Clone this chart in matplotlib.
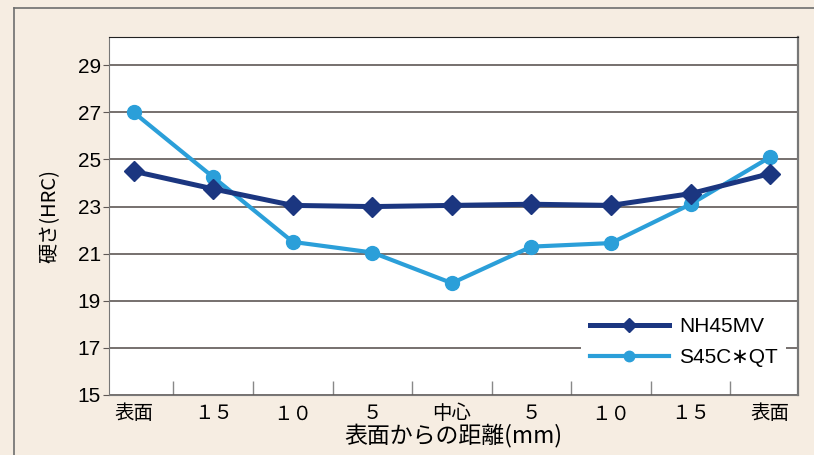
import matplotlib
matplotlib.use("Agg")
import matplotlib.pyplot as plt
from matplotlib.lines import Line2D
from matplotlib.ticker import FixedLocator

plt.rcParams['font.family'] = ['Noto Sans CJK JP', 'DejaVu Sans']

# データ
positions = ["表面", "１５", "１０", "５", "中心", "５", "１０", "１５", "表面"]
nh45mv = [24.5, 23.75, 23.05, 23.0, 23.05, 23.1, 23.05, 23.55, 24.4]
s45c_qt = [27.0, 24.25, 21.5, 21.05, 19.75, 21.3, 21.45, 23.1, 25.1]

beige = "#f6ede2"
navy = "#1b3680"
light_blue = "#2b9fd9"
grid_col = "#5f5855"

fig = plt.figure(figsize=(8.14, 4.55), dpi=100, facecolor=beige)
fig.patch.set_edgecolor("none")
# 外枠 (上と左だけ見える)
top_y = 1 - 8 / 455
left_x = 14 / 814
fig.lines.append(Line2D([left_x, 1.0], [top_y, top_y], transform=fig.transFigure,
                        color="#6e6e6e", lw=1.2))
fig.lines.append(Line2D([left_x, left_x], [0.0, top_y], transform=fig.transFigure,
                        color="#6e6e6e", lw=1.2))

ax = fig.add_axes([109 / 814, 60 / 455, (798 - 109) / 814, (395 - 37) / 455])
ax.set_facecolor("white")

x = range(len(positions))
ax.plot(x, s45c_qt, color=light_blue, lw=3.0, marker="o", markersize=10, label="S45C∗QT", zorder=3)
ax.plot(x, nh45mv, color=navy, lw=3.6, marker="D", markersize=10, label="NH45MV", zorder=4)

ax.set_xlim(-0.31, 8.35)
ax.set_ylim(15, 30.2)
ax.set_yticks(range(15, 30, 2))
ax.yaxis.grid(True, color=grid_col, lw=1.2)
ax.set_axisbelow(True)

ax.set_xticks(list(x))
ax.set_xticklabels(positions, fontsize=14)
ax.tick_params(axis="x", which="major", length=0, pad=6)
ax.xaxis.set_minor_locator(FixedLocator([i + 0.5 for i in range(8)]))
ax.tick_params(axis="x", which="minor", direction="in", length=10, color="#888888", width=1)
ax.tick_params(axis="y", length=4, color=grid_col, labelsize=15, pad=2)
for lbl in ax.get_yticklabels():
    lbl.set_family(['Liberation Sans Narrow', 'Liberation Sans'])

for side in ["left", "bottom", "right"]:
    ax.spines[side].set_color("#777777")
ax.spines["right"].set_linewidth(1.6)
ax.spines["top"].set_color("#222222")

ax.set_xlabel("表面からの距離(mm)", fontsize=16.5, labelpad=-1)
ax.set_ylabel("硬さ(HRC)", fontsize=14.5, labelpad=12)

handles, labels = ax.get_legend_handles_labels()
leg = ax.legend(handles[::-1], labels[::-1], loc="lower right", bbox_to_anchor=(0.998, 0.025),
                frameon=True, fancybox=False, fontsize=15, handlelength=3.8, markerscale=0.75,
                labelspacing=0.6, handletextpad=0.5, borderpad=0.4)
leg.get_frame().set_facecolor("white")
leg.get_frame().set_edgecolor("none")
leg.get_frame().set_alpha(1)
for t in leg.get_texts():
    t.set_family(['Liberation Sans', 'DejaVu Sans'])

fig.savefig("out.png", dpi=100, facecolor=beige)
